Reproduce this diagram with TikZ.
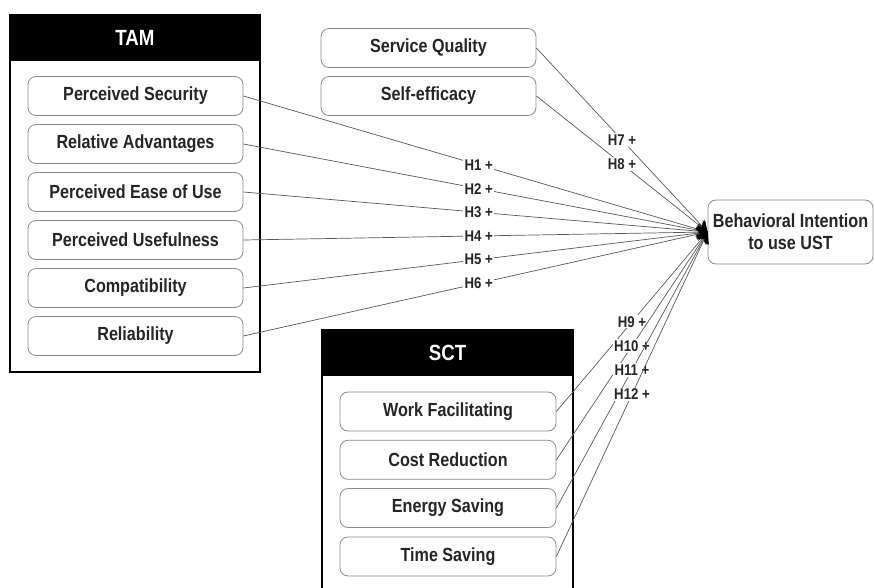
\documentclass[tikz,border=0pt]{standalone}
\usepackage{fontspec}
\setmainfont{Liberation Sans}[FakeStretch=0.85]
\usetikzlibrary{arrows.meta}
\tikzset{
  item/.style={draw=black!45, line width=0.8pt, rounded corners=8pt, fill=white,
    minimum width=215pt, minimum height=39pt, inner sep=0pt,
    font=\bfseries\fontsize{19}{22}\selectfont, text=black!85},
  frame/.style={draw=black, line width=1.6pt},
  head/.style={fill=black, draw=black, line width=1.6pt},
  headtext/.style={text=white, font=\bfseries\fontsize{22}{24}\selectfont},
  link/.style={draw=black!65, line width=0.7pt, -{Stealth[length=11pt,width=13pt,black]}},
  hyp/.style={fill=white, inner sep=1.2pt, text=black!85,
    font=\bfseries\fontsize{15.5}{17}\selectfont, pos=0.5}
}
\begin{document}
\begin{tikzpicture}[x=1pt,y=-1pt]
\useasboundingbox (0,0) rectangle (875,587);
\clip (0,0) rectangle (875,587);

% TAM group
\draw[frame] (10,15) rectangle (260,372);
\draw[head] (10,15) rectangle (260,60);
\node[headtext] (tam) at (135,37.5) {TAM};
\node[item] (ps)  at (135.5,96)  {Perceived Security};
\node[item] (ra)  at (135.5,144) {Relative Advantages};
\node[item] (peu) at (135.5,192) {Perceived Ease of Use};
\node[item] (pu)  at (135.5,240) {Perceived Usefulness};
\node[item] (co)  at (135.5,288) {Compatibility};
\node[item] (re)  at (135.5,336) {Reliability};

% stand-alone constructs
\node[item] (sq) at (428.5,48) {Service Quality};
\node[item] (se) at (428.5,96) {Self-efficacy};

% SCT group
\draw[frame] (322,330) rectangle (573,600);
\draw[head] (322,330) rectangle (573,375);
\node[headtext] (sct) at (447.5,352.5) {SCT};
\node[item, minimum width=216pt] (wf) at (448,411.5) {Work Facilitating};
\node[item, minimum width=216pt] (cr) at (448,459.8) {Cost Reduction};
\node[item, minimum width=216pt] (es) at (448,508)   {Energy Saving};
\node[item, minimum width=216pt] (ts) at (448,556.4) {Time Saving};

% outcome
\node[item, minimum width=165pt, minimum height=64pt, align=center] (bi) at (790.5,232)
  {Behavioral Intention\\to use UST};

% hypothesised paths
\draw[link] (ps.east) -- node[hyp, pos=0.507] {H1 +} (bi.west);
\draw[link] (ra.east) -- node[hyp, pos=0.507] {H2 +} (bi.west);
\draw[link] (peu.east) -- node[hyp, pos=0.507] {H3 +} (bi.west);
\draw[link] (pu.east) -- node[hyp, pos=0.507] {H4 +} (bi.west);
\draw[link] (co.east) -- node[hyp, pos=0.507] {H5 +} (bi.west);
\draw[link] (re.east) -- node[hyp, pos=0.507] {H6 +} (bi.west);
\draw[link] (sq.east) -- node[hyp] {H7 +} (bi.west);
\draw[link] (se.east) -- node[hyp] {H8 +} (bi.west);
\draw[link] (wf.east) -- node[hyp] {H9 +} (bi.west);
\draw[link] (cr.east) -- node[hyp] {H10 +} (bi.west);
\draw[link] (es.east) -- node[hyp] {H11 +} (bi.west);
\draw[link] (ts.east) -- node[hyp] {H12 +} (bi.west);
\end{tikzpicture}
\end{document}
